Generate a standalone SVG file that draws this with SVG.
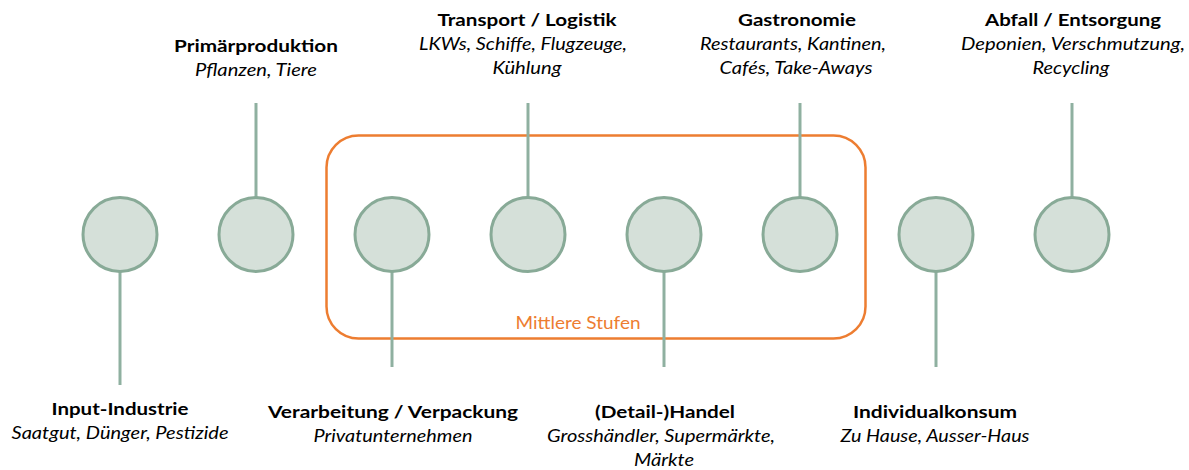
<svg xmlns="http://www.w3.org/2000/svg" width="1189" height="470" viewBox="0 0 1189 470">
<style>
.node circle{fill:#d5e0d9;stroke:#88aa97;stroke-width:3}
.conn line{stroke:#8fb0a0;stroke-width:3}
text{font-family:Lato,"Liberation Sans",sans-serif;font-size:17.5px;fill:#000;text-anchor:middle}
.t{font-weight:700}
.s{font-style:italic}
.grp{fill:none;stroke:#ed7d31;stroke-width:2.5}
.gl{fill:#ed7d31;font-weight:400}
</style>
<rect width="1189" height="470" fill="#fff"/>
<g id="mittlere-stufen">
<rect class="grp" x="326.5" y="135.5" width="539" height="203" rx="32"/>
<text class="gl" x="578" y="329" textLength="125" lengthAdjust="spacingAndGlyphs">Mittlere Stufen</text>
</g>
<g class="conn" id="connectors">
<line x1="120" y1="272" x2="120" y2="385"/>
<line x1="256" y1="103" x2="256" y2="197"/>
<line x1="392" y1="272" x2="392" y2="367"/>
<line x1="528" y1="103" x2="528" y2="197"/>
<line x1="664" y1="272" x2="664" y2="367"/>
<line x1="800" y1="103" x2="800" y2="197"/>
<line x1="936" y1="272" x2="936" y2="367"/>
<line x1="1072" y1="103" x2="1072" y2="197"/>
</g>
<g class="node" id="input-industrie">
<circle cx="120" cy="234.5" r="37"/>
<text class="t" x="120" y="415" textLength="137" lengthAdjust="spacingAndGlyphs">Input-Industrie</text>
<text class="s" x="120" y="439" textLength="217" lengthAdjust="spacingAndGlyphs">Saatgut, Dünger, Pestizide</text>
</g>
<g class="node" id="primaerproduktion">
<circle cx="256" cy="234.5" r="37"/>
<text class="t" x="256" y="52" textLength="164" lengthAdjust="spacingAndGlyphs">Primärproduktion</text>
<text class="s" x="256" y="76" textLength="122" lengthAdjust="spacingAndGlyphs">Pflanzen, Tiere</text>
</g>
<g class="node" id="verarbeitung">
<circle cx="392" cy="234.5" r="37"/>
<text class="t" x="393" y="418" textLength="250" lengthAdjust="spacingAndGlyphs">Verarbeitung / Verpackung</text>
<text class="s" x="393" y="442" textLength="159" lengthAdjust="spacingAndGlyphs">Privatunternehmen</text>
</g>
<g class="node" id="transport">
<circle cx="528" cy="234.5" r="37"/>
<text class="t" x="527" y="26" textLength="179" lengthAdjust="spacingAndGlyphs">Transport / Logistik</text>
<text class="s" x="523" y="50" textLength="208" lengthAdjust="spacingAndGlyphs">LKWs, Schiffe, Flugzeuge,</text>
<text class="s" x="527" y="74" textLength="69" lengthAdjust="spacingAndGlyphs">Kühlung</text>
</g>
<g class="node" id="handel">
<circle cx="664" cy="234.5" r="37"/>
<text class="t" x="665" y="418" textLength="140" lengthAdjust="spacingAndGlyphs">(Detail-)Handel</text>
<text class="s" x="661" y="442" textLength="228" lengthAdjust="spacingAndGlyphs">Grosshändler, Supermärkte,</text>
<text class="s" x="664" y="466" textLength="60" lengthAdjust="spacingAndGlyphs">Märkte</text>
</g>
<g class="node" id="gastronomie">
<circle cx="800" cy="234.5" r="37"/>
<text class="t" x="797" y="26" textLength="118" lengthAdjust="spacingAndGlyphs">Gastronomie</text>
<text class="s" x="793" y="50" textLength="186" lengthAdjust="spacingAndGlyphs">Restaurants, Kantinen,</text>
<text class="s" x="796" y="74" textLength="153" lengthAdjust="spacingAndGlyphs">Cafés, Take-Aways</text>
</g>
<g class="node" id="individualkonsum">
<circle cx="936" cy="234.5" r="37"/>
<text class="t" x="935" y="418" textLength="164" lengthAdjust="spacingAndGlyphs">Individualkonsum</text>
<text class="s" x="935" y="442" textLength="189" lengthAdjust="spacingAndGlyphs">Zu Hause, Ausser-Haus</text>
</g>
<g class="node" id="abfall">
<circle cx="1072" cy="234.5" r="37"/>
<text class="t" x="1073" y="26" textLength="176" lengthAdjust="spacingAndGlyphs">Abfall / Entsorgung</text>
<text class="s" x="1073" y="50" textLength="224" lengthAdjust="spacingAndGlyphs">Deponien, Verschmutzung,</text>
<text class="s" x="1071" y="74" textLength="77" lengthAdjust="spacingAndGlyphs">Recycling</text>
</g>
</svg>
